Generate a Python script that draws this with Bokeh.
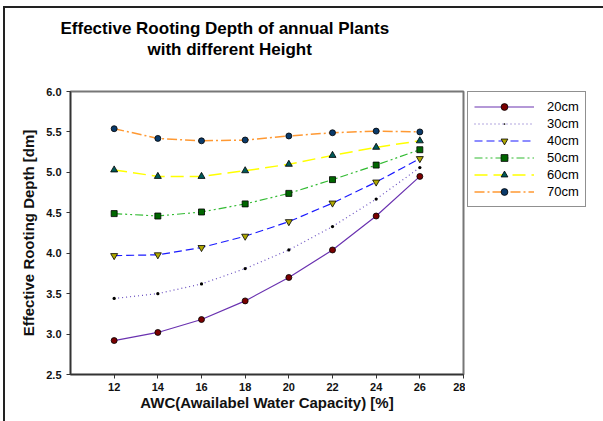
from bokeh.plotting import figure
from bokeh.models import Legend, LegendItem, FixedTicker, Title, Range1d, NumeralTickFormatter
from bokeh.layouts import row
from bokeh.embed import file_html
from bokeh.resources import INLINE

awc = [12, 14, 16, 18, 20, 22, 24, 26]
d20 = [2.92, 3.02, 3.18, 3.41, 3.70, 4.04, 4.46, 4.95]
d30 = [3.44, 3.50, 3.62, 3.81, 4.04, 4.33, 4.67, 5.06]
d40 = [3.97, 3.98, 4.07, 4.21, 4.39, 4.62, 4.88, 5.17]
d50 = [4.49, 4.46, 4.51, 4.61, 4.74, 4.91, 5.09, 5.28]
d60 = [5.03, 4.95, 4.95, 5.02, 5.10, 5.21, 5.31, 5.39]
d70 = [5.54, 5.42, 5.39, 5.40, 5.45, 5.49, 5.51, 5.50]
labels = ["20cm", "30cm", "40cm", "50cm", "60cm", "70cm"]
x_ticks = [12, 14, 16, 18, 20, 22, 24, 26, 28]
y_ticks = [2.5, 3.0, 3.5, 4.0, 4.5, 5.0, 5.5, 6.0]

FONT = "Liberation Sans"

p = figure(width=465, height=421, output_backend="svg", toolbar_location=None,
           x_range=Range1d(10, 28), y_range=Range1d(2.5, 6.0),
           min_border_left=70, min_border_right=2, min_border_top=91,
           min_border_bottom=47, border_fill_color=None)

p.add_layout(Title(text="with different Height", align="left", offset=77,
                   text_font=FONT, text_font_size="17px", text_font_style="bold",
                   text_color="#000000", standoff=65), "above")
p.add_layout(Title(text="Effective Rooting Depth of annual Plants", align="left", offset=-10,
                   text_font=FONT, text_font_size="17px", text_font_style="bold",
                   text_color="#000000", standoff=-64), "above")

p.grid.visible = False
p.outline_line_color = "#777777"
p.outline_line_width = 2
p.background_fill_color = "white"

for ax in (p.xaxis[0], p.yaxis[0]):
    ax.axis_line_color = "#333333"
    ax.axis_line_width = 1.5
    ax.major_tick_line_color = "#333333"
    ax.major_tick_out = 4
    ax.major_tick_in = 0
    ax.minor_tick_out = 0
    ax.minor_tick_in = 0
    ax.major_label_text_font = FONT
    ax.major_label_text_font_size = "11px"
    ax.major_label_text_font_style = "bold"
    ax.major_label_text_color = "#111111"
    ax.axis_label_text_font = FONT
    ax.axis_label_text_font_size = "15px"
    ax.axis_label_text_font_style = "bold"
    ax.axis_label_text_color = "#111111"

p.xaxis.ticker = FixedTicker(ticks=x_ticks)
p.yaxis.ticker = FixedTicker(ticks=y_ticks)
p.xaxis.axis_label = "AWC(Awailabel Water Capacity) [%]"
p.yaxis.axis_label = "Effective Rooting Depth [dm]"
p.xaxis.major_label_standoff = 4
p.xaxis.axis_label_standoff = 0
p.yaxis.axis_label_standoff = 6
p.yaxis.formatter = NumeralTickFormatter(format="0.0")

# (values, line colour, dash, width, marker, size, fill, marker line)
series = [
    (d20, "#6a32b0", "solid", 1.2, "circle", 6, "#7a0000", "black"),
    (d30, "#6a50c0", "1 3", 1.2, "dot", 13, "#000000", "black"),
    (d40, "#1a1aff", "8 4", 1.2, "inverted_triangle", 7, "#b0a800", "black"),
    (d50, "#33bb33", "8 3 2 3 2 3", 1.2, "square", 6, "#006600", "black"),
    (d60, "#ffff00", "13 6", 1.5, "triangle", 7, "#005a5a", "black"),
    (d70, "#ff9933", "10 3 2 3", 1.5, "circle", 6, "#0a3a6a", "black"),
]

# legend lives in a small side figure
p2 = figure(width=138, height=421, output_backend="svg", toolbar_location=None,
            x_range=Range1d(0, 1), y_range=Range1d(0, 1),
            min_border_left=0, min_border_right=0, min_border_top=0,
            min_border_bottom=0, border_fill_color=None)
p2.axis.visible = False
p2.grid.visible = False
p2.outline_line_color = None
p2.background_fill_color = None

items = []
for (vals, col, dash, lw, mk, ms, fill, mlc), lab in zip(series, labels):
    p.line(awc, vals, line_color=col, line_dash=dash, line_width=lw)
    p.scatter(awc, vals, marker=mk, size=ms, fill_color=fill,
              line_color=mlc, line_width=0.8)
    l2 = p2.line([-5, -4], [-5, -4], line_color=col, line_dash=dash, line_width=lw)
    s2 = p2.scatter([-5], [-5], marker=mk, size=ms, fill_color=fill,
                    line_color=mlc, line_width=0.8)
    items.append(LegendItem(label=lab, renderers=[l2, s2]))

legend = Legend(items=items, location=(2, 167), margin=0,
                padding=6, spacing=0, glyph_width=60, glyph_height=17,
                label_standoff=13, label_text_font=FONT,
                label_text_font_size="13px", label_height=17,
                label_text_color="#000000",
                border_line_color="#222222", border_line_width=1.5,
                background_fill_color="white")
p2.add_layout(legend, "center")

layout = row(p, p2, styles={"background": "linear-gradient(#222,#222) 3px 6px / 2px 100% no-repeat, "
                                          "linear-gradient(#222,#222) 3px 6px / 100% 2px no-repeat, white"})

open("out.html", "w").write(file_html(layout, INLINE))
